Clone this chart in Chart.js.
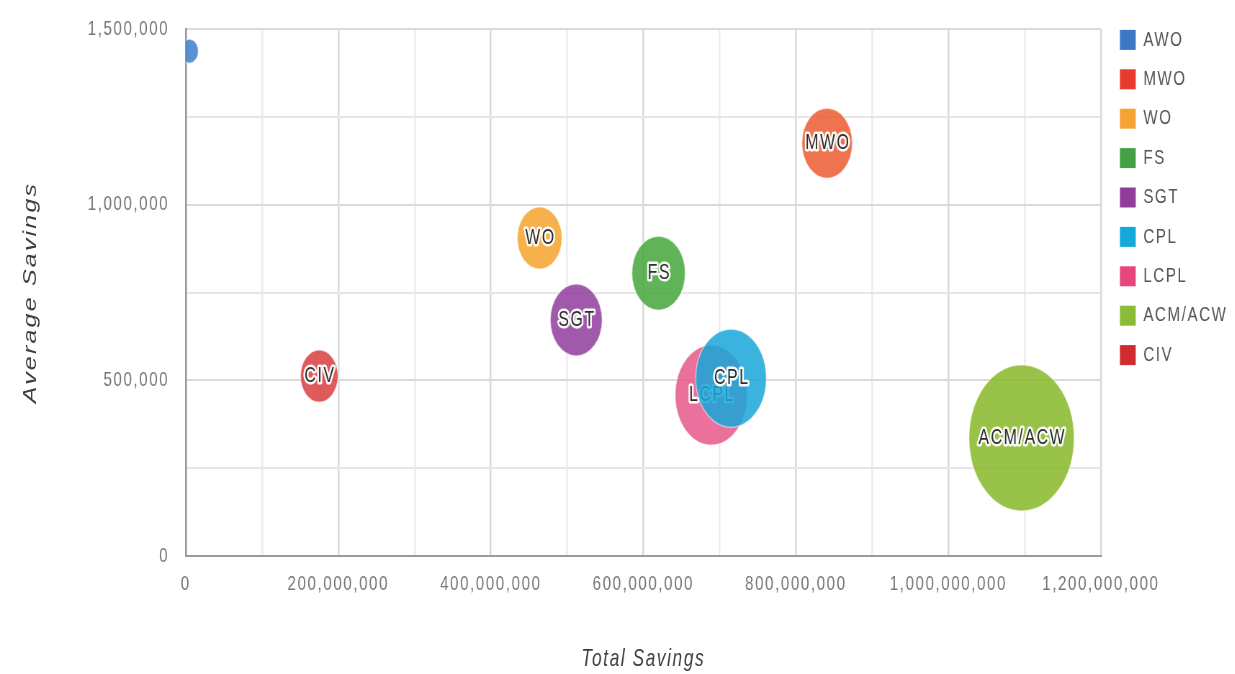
<!DOCTYPE html>
<html>
<head>
<meta charset="utf-8">
<script src="https://cdn.jsdelivr.net/npm/chart.js@4.4.1/dist/chart.umd.min.js"></script>
<style>
  html, body { margin: 0; padding: 0; background: #ffffff; overflow: hidden; }
  #stage { width: 1715px; height: 674px; transform: scaleX(0.72); transform-origin: 0 0; }
  canvas { display: block; }
</style>
</head>
<body>
<div id="stage"><canvas id="chart" width="1715" height="674"></canvas></div>
<script>
// Savings by grade: total (x), average (y) and bubble size
const seriesNames = ['AWO', 'MWO', 'WO', 'FS', 'SGT', 'CPL', 'LCPL', 'ACM/ACW', 'CIV'];
const totalSavings = [5000000, 841000000, 464000000, 620000000, 512000000, 715000000, 689000000, 1096000000, 175000000];
const averageSavings = [1437000, 1175000, 905000, 805000, 672000, 506000, 458000, 336000, 512000];
const bubbleSize = [12, 35, 31, 37, 36, 49, 50, 73, 26];

// Labelled ticks on each axis (unlabelled minor lines sit halfway between)
const xTickValues = [0, 200000000, 400000000, 600000000, 800000000, 1000000000, 1200000000];
const yTickValues = [0, 500000, 1000000, 1500000];

// Legend swatches and the (slightly softer) bubble fills
const seriesColors = ['#3b78c5', '#e93a2b', '#f7a234', '#45a046', '#8f3d99', '#13aadb', '#e6467c', '#8cbb38', '#d02b2e'];
const bubbleColors = ['#3f7fcc', '#ec5c32', '#f6a42f', '#46a63b', '#913f9d', '#1aa6d9', '#e65a8a', '#88b82a', '#d93f40'];

const FONT = '"Liberation Sans", Arial, Helvetica, sans-serif';
const SPACING = 2.2;

function withAlpha(hex, a) {
  const n = parseInt(hex.slice(1), 16);
  return `rgba(${(n >> 16) & 255}, ${(n >> 8) & 255}, ${n & 255}, ${a})`;
}
const fmt = v => Math.round(v).toLocaleString('en-US');

// Wider tracking for all canvas text
const textSpacing = {
  id: 'textSpacing',
  beforeInit(c) { c.ctx.letterSpacing = SPACING + 'px'; },
  beforeUpdate(c) { c.ctx.letterSpacing = SPACING + 'px'; },
  beforeDraw(c) { c.ctx.letterSpacing = SPACING + 'px'; }
};

// Small gap between the plot edge and the legend column
const legendGap = {
  id: 'legendGap',
  afterLayout(c) {
    if (c.legend) { c.legend.left += 8; c.legend.right += 8; }
  }
};

// Grade names written inside each bubble with a white halo
const bubbleLabels = {
  id: 'bubbleLabels',
  afterDatasetDraw(chart, args) {
    const ds = chart.data.datasets[args.index];
    const ctx = chart.ctx;
    ctx.save();
    ctx.font = `22px ${FONT}`;
    ctx.letterSpacing = SPACING + 'px';
    ctx.textAlign = 'center';
    ctx.textBaseline = 'middle';
    ctx.lineJoin = 'round';
    args.meta.data.forEach(pt => {
      const r = pt.options.radius;
      const w = ctx.measureText(ds.label).width;
      if (w > 2 * r + 8) return;
      const x = pt.x + SPACING / 2;
      ctx.lineWidth = 5;
      ctx.strokeStyle = 'rgba(255,255,255,0.95)';
      ctx.strokeText(ds.label, x, pt.y);
      ctx.fillStyle = '#2e2e2e';
      ctx.fillText(ds.label, x, pt.y);
    });
    ctx.restore();
  }
};

Chart.defaults.font.family = FONT;

new Chart(document.getElementById('chart'), {
  type: 'bubble',
  data: {
    datasets: seriesNames.map((name, i) => ({
      label: name,
      data: [{ x: totalSavings[i], y: averageSavings[i], r: bubbleSize[i] }],
      backgroundColor: withAlpha(bubbleColors[i], 0.86),
      borderColor: 'rgba(255,255,255,0.45)',
      borderWidth: 1.5,
      hoverRadius: 0
    }))
  },
  options: {
    responsive: false,
    animation: false,
    events: [],
    layout: { autoPadding: false, padding: { top: 11, right: 16, bottom: 0, left: 0 } },
    plugins: {
      tooltip: { enabled: false },
      legend: {
        position: 'right',
        align: 'start',
        maxWidth: 170,
        labels: {
          boxWidth: 22,
          boxHeight: 20,
          padding: 18.4,
          color: '#555555',
          font: { size: 21 },
          generateLabels(chart) {
            const items = Chart.defaults.plugins.legend.labels.generateLabels(chart);
            items.forEach((it, i) => {
              it.fillStyle = seriesColors[i];
              it.strokeStyle = seriesColors[i];
              it.lineWidth = 0;
            });
            return items;
          }
        }
      }
    },
    scales: {
      x: {
        type: 'linear',
        position: 'bottom',
        min: 0,
        max: 1200000000,
        afterFit(s) { s.height = 118; s.paddingLeft = 0; s.paddingRight = 0; },
        ticks: {
          stepSize: 100000000,
          autoSkip: false,
          maxRotation: 0,
          padding: 16,
          color: '#777777',
          font: { size: 21 },
          callback: v => xTickValues.includes(Math.round(v)) ? fmt(v) : ''
        },
        grid: {
          drawTicks: false,
          lineWidth: 2.5,
          color: c => (c.tick && xTickValues.includes(Math.round(c.tick.value))) ? '#d9d9d9' : '#ececec'
        },
        border: { color: '#9a9a9a', width: 2 },
        title: {
          display: true,
          text: 'Total Savings',
          color: '#3c3c3c',
          font: { size: 24, style: 'italic' },
          padding: { top: 0, bottom: 0 }
        }
      },
      y: {
        type: 'linear',
        min: 0,
        max: 1500000,
        afterFit(s) { s.width = 258; s.paddingTop = 29; s.paddingBottom = 0; },
        ticks: {
          stepSize: 250000,
          padding: 23,
          color: '#777777',
          font: { size: 21 },
          callback: v => yTickValues.includes(Math.round(v)) ? fmt(v) : ''
        },
        grid: {
          drawTicks: false,
          lineWidth: 2,
          color: c => (c.tick && yTickValues.includes(Math.round(c.tick.value))) ? '#dadada' : '#e6e6e6'
        },
        border: { color: '#9a9a9a', width: 2.5 },
        title: {
          display: true,
          text: 'Average Savings',
          color: '#3c3c3c',
          font: { size: 25, style: 'italic' },
          padding: { top: 28, bottom: 0 }
        }
      }
    }
  },
  plugins: [textSpacing, legendGap, bubbleLabels]
});
</script>
</body>
</html>
